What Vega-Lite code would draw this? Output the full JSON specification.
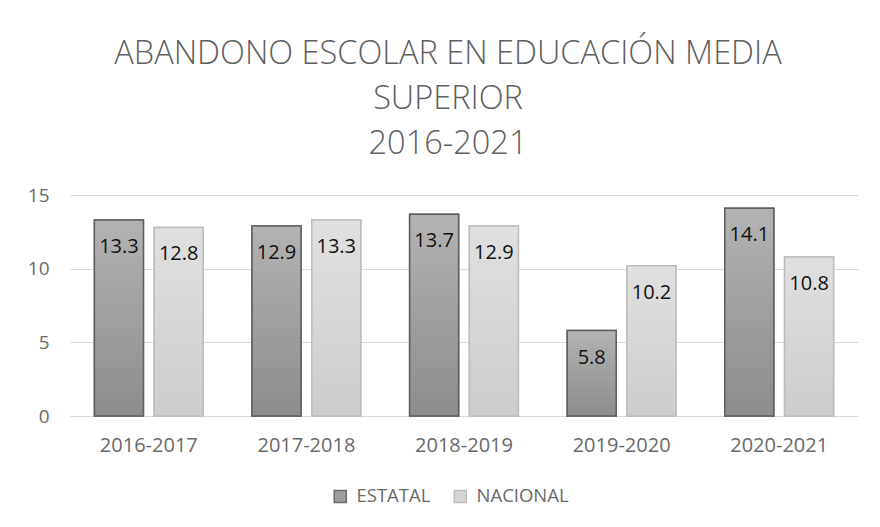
{
  "$schema": "https://vega.github.io/schema/vega-lite/v6.json",
  "width": 788,
  "height": 221,
  "autosize": "none",
  "padding": {"left": 70, "top": 195, "right": 22, "bottom": 111},
  "background": "white",
  "config": {
    "font": "Open Sans",
    "view": {"stroke": null},
    "axis": {"labelFont": "Open Sans", "labelColor": "#6a6a6a", "labelFontSize": 20, "ticks": false, "title": null}
  },
  "title": {
    "text": ["ABANDONO ESCOLAR EN EDUCACIÓN MEDIA", "SUPERIOR", "2016-2021"],
    "font": "Open Sans",
    "fontSize": 32.5,
    "fontWeight": 300,
    "color": "#5f5f5f",
    "lineHeight": 45,
    "anchor": "middle",
    "offset": 26,
    "dx": -16
  },
  "data": {
    "values": [
      {"periodo": "2016-2017", "serie": "ESTATAL", "valor": 13.3},
      {"periodo": "2016-2017", "serie": "NACIONAL", "valor": 12.8},
      {"periodo": "2017-2018", "serie": "ESTATAL", "valor": 12.9},
      {"periodo": "2017-2018", "serie": "NACIONAL", "valor": 13.3},
      {"periodo": "2018-2019", "serie": "ESTATAL", "valor": 13.7},
      {"periodo": "2018-2019", "serie": "NACIONAL", "valor": 12.9},
      {"periodo": "2019-2020", "serie": "ESTATAL", "valor": 5.8},
      {"periodo": "2019-2020", "serie": "NACIONAL", "valor": 10.2},
      {"periodo": "2020-2021", "serie": "ESTATAL", "valor": 14.1},
      {"periodo": "2020-2021", "serie": "NACIONAL", "valor": 10.8}
    ]
  },
  "encoding": {
    "x": {
      "field": "periodo", "type": "nominal",
      "scale": {"paddingInner": 0.31, "paddingOuter": 0.155},
      "axis": {"labelAngle": 0, "labelPadding": 19, "domain": true, "domainColor": "#d9d9d9", "domainWidth": 1, "grid": false}
    },
    "xOffset": {"field": "serie", "type": "nominal", "sort": ["ESTATAL", "NACIONAL"], "scale": {"paddingInner": 0.18, "paddingOuter": 0}},
    "y": {
      "field": "valor", "type": "quantitative",
      "scale": {"domain": [0, 15], "nice": false},
      "axis": {"values": [0, 5, 10, 15], "grid": true, "gridColor": "#d9d9d9", "gridWidth": 1, "domain": false, "labelPadding": 21, "labelFontSize": 19}
    }
  },
  "layer": [
    {
      "mark": {"type": "bar", "strokeWidth": 1.5},
      "encoding": {
        "color": {
          "field": "serie", "type": "nominal",
          "scale": {"domain": ["ESTATAL", "NACIONAL"], "range": ["#9e9e9e", "#d6d6d6"]},
          "legend": {
            "title": null, "orient": "none", "direction": "horizontal",
            "legendX": 261, "legendY": 292,
            "symbolType": "square", "symbolSize": 144, "symbolStrokeWidth": 1.5,
            "labelFont": "Open Sans", "labelFontSize": 18.5, "labelColor": "#6a6a6a",
            "labelOffset": 7, "columnPadding": 20
          }
        },
        "stroke": {
          "field": "serie", "type": "nominal",
          "scale": {"domain": ["ESTATAL", "NACIONAL"], "range": ["#6b6b6b", "#bfbfbf"]},
          "legend": {
            "title": null, "orient": "none", "direction": "horizontal",
            "legendX": 261, "legendY": 292,
            "symbolType": "square", "symbolSize": 144, "symbolStrokeWidth": 1.5,
            "labelFont": "Open Sans", "labelFontSize": 18.5, "labelColor": "#6a6a6a",
            "labelOffset": 7, "columnPadding": 20
          }
        }
      }
    },
    {
      "transform": [{"filter": "datum.serie === 'ESTATAL'"}],
      "mark": {
        "type": "bar", "strokeWidth": 1.5, "stroke": "#5f5f5f",
        "color": {"gradient": "linear", "x1": 0, "y1": 0, "x2": 0, "y2": 1,
          "stops": [{"offset": 0, "color": "#b3b3b3"}, {"offset": 1, "color": "#8c8c8c"}]}
      }
    },
    {
      "transform": [{"filter": "datum.serie === 'NACIONAL'"}],
      "mark": {
        "type": "bar", "strokeWidth": 1.5, "stroke": "#bdbdbd",
        "color": {"gradient": "linear", "x1": 0, "y1": 0, "x2": 0, "y2": 1,
          "stops": [{"offset": 0, "color": "#e0e0e0"}, {"offset": 1, "color": "#cdcdcd"}]}
      }
    },
    {
      "mark": {"type": "text", "baseline": "middle", "dy": 27, "fontSize": 20, "font": "Open Sans", "color": "#111111"},
      "encoding": {"text": {"field": "valor", "type": "quantitative", "format": ".1f"}}
    }
  ]
}
